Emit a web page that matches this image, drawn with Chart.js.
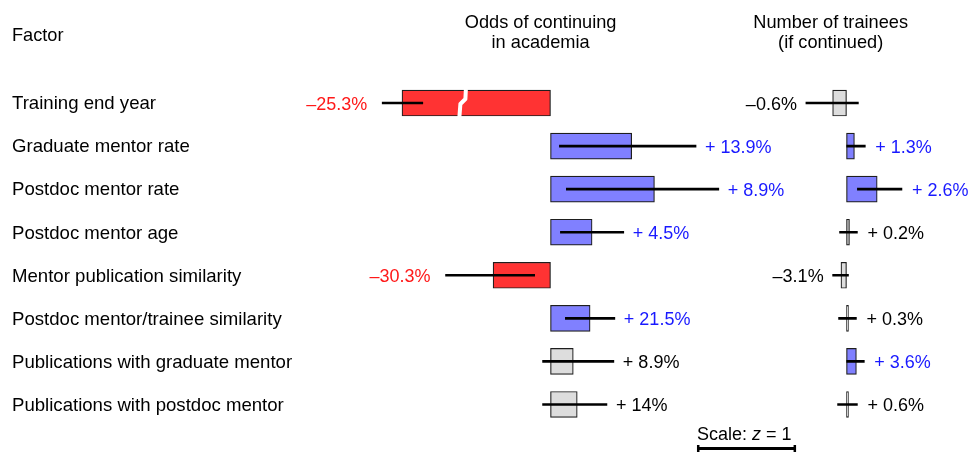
<!DOCTYPE html>
<html>
<head>
<meta charset="utf-8">
<script src="https://cdn.jsdelivr.net/npm/chart.js@4.4.1/dist/chart.umd.min.js"></script>
<style>
  html, body { margin: 0; padding: 0; background: #fff; }
  #wrap { width: 973px; height: 453px; }
</style>
</head>
<body>
<div id="wrap"><canvas id="c" width="973" height="453"></canvas></div>
<script>
// ---------- data (effects in z units) ----------
const factors = [
  'Training end year',
  'Graduate mentor rate',
  'Postdoc mentor rate',
  'Postdoc mentor age',
  'Mentor publication similarity',
  'Postdoc mentor/trainee similarity',
  'Publications with graduate mentor',
  'Publications with postdoc mentor'
];
// Odds of continuing in academia (first bar is drawn broken / truncated)
const oddsZ      = [-1.50, 0.82, 1.05, 0.42, -0.58, 0.40, 0.23, 0.27];
const oddsLo     = [-1.70, 0.09, 0.16, 0.10, -1.06, 0.15, -0.08, -0.08];
const oddsHi     = [-1.29, 1.47, 1.70, 0.74, -0.16, 0.65, 0.64, 0.57];
const oddsLabels = ['–25.3%', '+ 13.9%', '+ 8.9%', '+ 4.5%', '–30.3%', '+ 21.5%', '+ 8.9%', '+ 14%'];
const oddsSig    = ['neg', 'pos', 'pos', 'pos', 'neg', 'pos', 'ns', 'ns'];
// Number of trainees (if continued)
const traineesZ      = [-0.14, 0.08, 0.31, 0.03, -0.056, 0.02, 0.10, 0.02];
const traineesLo     = [-0.41, 0.002, 0.11, -0.07, -0.14, -0.08, 0.002, -0.09];
const traineesHi     = [0.12, 0.19, 0.56, 0.11, 0.02, 0.10, 0.18, 0.11];
const traineesLabels = ['–0.6%', '+ 1.3%', '+ 2.6%', '+ 0.2%', '–3.1%', '+ 0.3%', '+ 3.6%', '+ 0.6%'];
const traineesSig    = ['ns', 'pos', 'pos', 'ns', 'ns', 'ns', 'pos', 'ns'];
const brokenRows = [0];          // bars truncated with a break mark
const scaleBarZ = 1;             // "Scale: z = 1"

// ---------- styles ----------
const FONT = '"Liberation Sans", Arial, Helvetica, sans-serif';
const FILL = { neg: 'rgb(255,51,51)', pos: 'rgb(128,128,255)', ns: 'rgb(221,221,221)' };
const TEXT = { neg: 'rgb(255,25,25)', pos: 'rgb(25,25,255)', ns: '#000' };
const W = 973;
const PX_PER_Z = 99;
const ZERO_L = 550.5, ZERO_R = 846.5;
const BREAK_AT = -0.88;

const pairs = (lo, hi) => lo.map((v, i) => [v, hi[i]]);

const annot = {
  id: 'annot',
  afterDatasetsDraw(chart) {
    const ctx = chart.ctx;
    const ys = chart.scales.y, xL = chart.scales.xL, xR = chart.scales.xR;
    const area = chart.chartArea;
    ctx.save();
    // break mark on truncated bars
    const barMeta = chart.getDatasetMeta(1);
    brokenRows.forEach(i => {
      const el = barMeta.data[i];
      const x = xL.getPixelForValue(BREAK_AT);
      const t = el.y - el.height / 2 - 1, b = el.y + el.height / 2 + 1;
      ctx.strokeStyle = '#fff';
      ctx.lineWidth = 4;
      ctx.lineJoin = 'round';
      ctx.beginPath();
      ctx.moveTo(x + 2.5, t);
      ctx.lineTo(x + 2, t + 10);
      ctx.lineTo(x - 3, t + 15);
      ctx.lineTo(x - 4, b);
      ctx.stroke();
    });
    // value labels
    ctx.font = '18px ' + FONT;
    const drawLabels = (scale, z, lo, hi, labels, sig, gapPos, gapNeg) => {
      labels.forEach((lab, i) => {
        const y = ys.getPixelForValue(i) + 6.5;
        ctx.fillStyle = TEXT[sig[i]];
        if (lab.startsWith('–')) {
          ctx.textAlign = 'right';
          ctx.fillText(lab, scale.getPixelForValue(Math.min(lo[i], z[i])) - gapNeg, y);
        } else {
          ctx.textAlign = 'left';
          ctx.fillText(lab, scale.getPixelForValue(Math.max(hi[i], z[i])) + gapPos, y);
        }
      });
    };
    drawLabels(xL, oddsZ, oddsLo, oddsHi, oddsLabels, oddsSig, 9, 15);
    drawLabels(xR, traineesZ, traineesLo, traineesHi, traineesLabels, traineesSig, 10, 9);
    // row labels
    ctx.fillStyle = '#000';
    ctx.textAlign = 'left';
    ctx.font = '18.6px ' + FONT;
    factors.forEach((f, i) => ctx.fillText(f, 12, ys.getPixelForValue(i) + 6.3));
    // headers
    ctx.font = '18.2px ' + FONT;
    ctx.fillText('Factor', 12, area.top - 40.5);
    ctx.textAlign = 'center';
    const cL = xL.getPixelForValue(-0.1), cR = xR.getPixelForValue(-0.16);
    ctx.fillText('Odds of continuing', cL, area.top - 54);
    ctx.fillText('in academia', cL, area.top - 34);
    ctx.fillText('Number of trainees', cR, area.top - 54);
    ctx.fillText('(if continued)', cR, area.top - 34);
    // scale bar
    const sx0 = xL.getPixelForValue(1.48), sx1 = sx0 + (xL.getPixelForValue(scaleBarZ) - xL.getPixelForValue(0));
    const ty = area.bottom + 14;
    ctx.textAlign = 'left';
    let tx = sx0;
    ctx.font = '18px ' + FONT;
    ctx.fillText('Scale: ', tx, ty); tx += ctx.measureText('Scale: ').width;
    ctx.font = 'italic 18px ' + FONT;
    ctx.fillText('z', tx, ty); tx += ctx.measureText('z').width;
    ctx.font = '18px ' + FONT;
    ctx.fillText(' = ' + scaleBarZ, tx, ty);
    const by = area.bottom + 22.5;
    ctx.strokeStyle = '#000';
    ctx.lineWidth = 3;
    ctx.lineCap = 'butt';
    ctx.beginPath();
    ctx.moveTo(sx0, by); ctx.lineTo(sx1, by);
    ctx.stroke();
    ctx.lineWidth = 2.5;
    ctx.beginPath();
    ctx.moveTo(sx0 + 1.2, by - 3.5); ctx.lineTo(sx0 + 1.2, by + 3.5);
    ctx.moveTo(sx1 - 1.2, by - 3.5); ctx.lineTo(sx1 - 1.2, by + 3.5);
    ctx.stroke();
    ctx.restore();
  }
};

const errDs = (lo, hi, axis) => ({
  data: pairs(lo, hi), xAxisID: axis, backgroundColor: '#000', borderWidth: 0,
  barThickness: 2, grouped: false, order: 0
});
const barDs = (z, sig, axis) => ({
  data: z, xAxisID: axis, backgroundColor: sig.map(s => FILL[s]),
  borderColor: '#1e1e1e', borderWidth: 1.2, borderSkipped: false,
  barThickness: 26, grouped: false, order: 1
});

new Chart(document.getElementById('c'), {
  type: 'bar',
  data: {
    labels: factors,
    datasets: [
      errDs(oddsLo, oddsHi, 'xL'),
      barDs(oddsZ, oddsSig, 'xL'),
      errDs(traineesLo, traineesHi, 'xR'),
      barDs(traineesZ, traineesSig, 'xR')
    ]
  },
  options: {
    indexAxis: 'y',
    responsive: false,
    animation: false,
    layout: { padding: { top: 81.5, bottom: 27, left: 0, right: 0 } },
    plugins: { legend: { display: false }, tooltip: { enabled: false }, title: { display: false } },
    scales: {
      y: { type: 'category', display: false, offset: true },
      xL: { type: 'linear', display: false, min: -ZERO_L / PX_PER_Z, max: (W - ZERO_L) / PX_PER_Z },
      xR: { type: 'linear', display: false, min: -ZERO_R / PX_PER_Z, max: (W - ZERO_R) / PX_PER_Z }
    }
  },
  plugins: [annot]
});
</script>
</body>
</html>
